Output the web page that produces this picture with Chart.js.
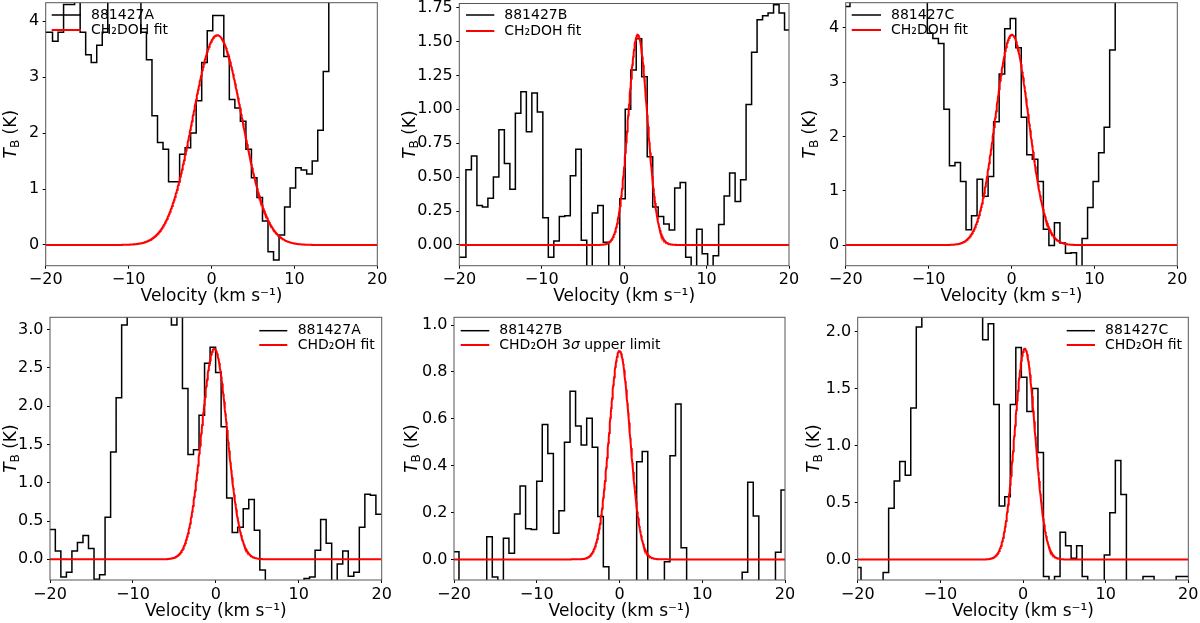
<!DOCTYPE html>
<html>
<head>
<meta charset="utf-8">
<title>CH2DOH / CHD2OH spectra</title>
<script src="https://cdn.jsdelivr.net/npm/chart.js@4.4.1/dist/chart.umd.min.js"></script>
<style>
  html, body { margin: 0; padding: 0; background: #fff; }
  .panel { position: absolute; }
</style>
</head>
<body>
<div class="panel" style="left:0px;top:0px;width:400px;height:312px"><canvas id="p0"></canvas></div>
<div class="panel" style="left:400px;top:0px;width:400px;height:312px"><canvas id="p1"></canvas></div>
<div class="panel" style="left:800px;top:0px;width:400px;height:312px"><canvas id="p2"></canvas></div>
<div class="panel" style="left:0px;top:312px;width:400px;height:311px"><canvas id="p3"></canvas></div>
<div class="panel" style="left:400px;top:312px;width:400px;height:311px"><canvas id="p4"></canvas></div>
<div class="panel" style="left:800px;top:312px;width:400px;height:311px"><canvas id="p5"></canvas></div>
<script>
// legend labels
const sourceNames = ['881427A', '881427B', '881427C', '881427A', '881427B', '881427C'];
const fitLabels = ['CH\u2082DOH fit', 'CH\u2082DOH fit', 'CH\u2082DOH fit',
                   'CHD\u2082OH fit', 'CHD\u2082OH 3\u03c3 upper limit', 'CHD\u2082OH fit'];

// spectral channels: left edge of first channel and channel width (km/s)
const chanStart = [-20.51, -20.53, -20.15, -20.69, -20.07, -20.27];
const chanWidth = [0.6665, 0.6665, 0.6665, 0.6665, 0.671, 0.669];

// brightness temperature per channel (K)
const tbCH2DOH_A = [3.8, 3.8, 3.64, 3.8, 4.3, 4.3, 4.6, 3.8, 3.4, 3.26, 3.57, 3.8, 4.6, 4.8, 4.9, 4.7,
  4.5, 4.4, 3.8, 3.31, 2.31, 1.83, 1.71, 1.13, 1.13, 1.62, 1.74, 2.0, 2.58, 3.26, 3.83, 4.1, 4.1,
  3.37, 2.6, 2.45, 2.21, 1.71, 1.2, 0.85, 0.43, -0.12, -0.27, 0.18, 0.68, 1.02, 1.38, 1.34, 1.27,
  1.5, 2.05, 3.1, 4.6, 5.0, 5.3, 5.5, 5.6, 5.5, 5.6, 5.4, 5.3];
const tbCH2DOH_B = [-0.09, -0.09, 0.555, 0.655, 0.29, 0.28, 0.345, 0.5, 0.85, 0.6, 0.41, 0.97, 1.13,
  0.835, 1.12, 0.98, 0.2, -0.09, 0.03, 0.21, 0.215, 0.51, 0.705, 0.035, -0.3, 0.235, 0.29, 0.02,
  -0.3, -0.3, 0.34, 1.0, 1.29, 1.52, 1.24, 0.65, 0.28, 0.21, 0.155, 0.11, 0.42, 0.46, -0.09, -0.3,
  0.115, -0.065, -0.3, -0.08, 0.15, 0.36, 0.53, 0.32, 0.48, 1.035, 1.42, 1.66, 1.69, 1.71, 1.77,
  1.71, 1.585];
const tbCH2DOH_C = [4.39, 4.6, 4.8, 5.0, 5.2, 5.3, 5.4, 5.3, 5.2, 5.0, 4.9, 4.8, 4.7, 4.6, 4.55,
  3.9, 3.8, 3.71, 2.5, 1.46, 1.52, 1.17, 0.28, 0.54, 1.21, 0.9, 1.26, 2.27, 3.15, 3.98, 4.17, 3.63,
  2.35, 1.66, 1.58, 1.17, 0.29, -0.01, 0.41, 0.04, -0.15, -0.14, -0.5, 0.12, 0.69, 1.17, 1.7, 2.17,
  3.59, 4.6, 5.0, 5.3, 5.5, 5.6, 5.7, 5.6, 5.5, 5.4, 5.3, 5.2, 5.1];
const tbCHD2OH_A = [0.87, 0.39, 0.11, -0.23, -0.17, 0.11, 0.22, 0.31, 0.14, -0.26, -0.2, 0.55, 1.4,
  2.11, 3.06, 3.4, 3.6, 3.8, 3.7, 3.6, 3.4, 3.3, 3.2, 3.06, 3.2, 2.23, 1.37, 1.43, 1.88, 2.56, 2.77,
  2.44, 1.73, 0.8, 0.35, 0.42, 0.66, 0.78, 0.38, -0.14, -0.4, -0.5, -0.45, -0.4, -0.35, -0.4, -0.35,
  -0.25, -0.23, 0.12, 0.52, 0.21, -0.35, -0.06, 0.11, -0.22, -0.17, 0.42, 0.85, 0.835, 0.59];
const tbCHD2OH_B = [0.033, -0.15, -0.15, -0.15, -0.15, -0.15, 0.097, -0.075, -0.15, 0.09, 0.026,
  0.194, 0.313, 0.131, 0.127, 0.333, 0.576, 0.452, 0.111, 0.208, 0.5, 0.717, 0.569, 0.488, 0.602,
  0.479, 0.183, -0.031, -0.15, -0.15, -0.15, -0.15, -0.15, 0.417, 0.46, -0.15, -0.15, -0.15, -0.01,
  0.442, 0.663, 0.05, -0.15, -0.15, -0.15, -0.15, -0.15, -0.15, -0.15, -0.15, -0.15, -0.15, -0.055,
  0.329, 0.185, -0.15, -0.15, -0.15, 0.03, 0.296];
const tbCHD2OH_C = [-0.07, -0.3, -0.3, -0.3, -0.3, -0.115, 0.45, 0.69, 0.86, 0.74, 1.33, 2.04, 2.3,
  2.5, 2.7, 2.9, 3.0, 3.1, 3.0, 2.8, 2.6, 2.4, 2.3, 1.93, 2.07, 1.36, 0.47, 0.55, 1.36, 1.86, 1.6,
  1.3, 1.5, 0.94, -0.15, -0.3, -0.15, 0.24, 0.12, 0.01, 0.12, -0.15, -0.3, -0.3, -0.3, 0.04, 0.41,
  0.87, 0.57, -0.3, -0.3, -0.3, -0.15, -0.15, -0.3, -0.3, -0.3, -0.3, -0.15, -0.15, -0.15];
const spectra = [tbCH2DOH_A, tbCH2DOH_B, tbCH2DOH_C, tbCHD2OH_A, tbCHD2OH_B, tbCHD2OH_C];

// Gaussian fit parameters: peak (K), centre (km/s), sigma (km/s)
const fitAmp = [3.75, 1.55, 3.87, 2.75, 0.89, 1.85];
const fitCenter = [0.7, 1.65, 0.05, -0.18, 0.0, 0.22];
const fitSigma = [2.97, 1.17, 2.0, 1.55, 1.25, 1.23];

// axis limits and ticks
const xTicks = [-20, -10, 0, 10, 20];
const yMin = [-0.37, -0.153, -0.38, -0.27, -0.088, -0.18];
const yMax = [4.33, 1.78, 4.46, 3.16, 1.033, 2.126];
const yTicks = [
  [0, 1, 2, 3, 4],
  [0, 0.25, 0.5, 0.75, 1.0, 1.25, 1.5, 1.75],
  [0, 1, 2, 3, 4],
  [0, 0.5, 1.0, 1.5, 2.0, 2.5, 3.0],
  [0, 0.2, 0.4, 0.6, 0.8, 1.0],
  [0, 0.5, 1.0, 1.5, 2.0]
];
const yDecimals = [0, 2, 0, 1, 1, 1];

// placement of each plot inside its canvas (px)
const boxes = [
  { padTop: 2.7, yW: 45.7, padRight: 22.7, xH: 46.3, titlePad: 4.8, yTitleX: 12, leg: [51.7, 81, 91, 15, 30] },
  { padTop: 3.5, yW: 59.3, padRight: 11, xH: 46.3, titlePad: 4.8, yTitleX: 10.5, leg: [66, 94.3, 104.3, 15, 31] },
  { padTop: 2.7, yW: 45.7, padRight: 22.7, xH: 46.3, titlePad: 4.8, yTitleX: 11, leg: [51.7, 81, 91, 15, 30] },
  { padTop: 5.3, yW: 50, padRight: 18.3, xH: 43, titlePad: 1.1, yTitleX: 11.5, leg: [259.3, 287.3, 297.7, 18.7, 33] },
  { padTop: 5.3, yW: 54, padRight: 15, xH: 43, titlePad: 1.1, yTitleX: 13, leg: [60.7, 89.3, 99.3, 18.7, 33] },
  { padTop: 5.3, yW: 57.7, padRight: 11.7, xH: 43, titlePad: 1.1, yTitleX: 15, leg: [266.7, 295, 305, 18.7, 33] }
];

Chart.defaults.font.family = 'DejaVu Sans';
Chart.defaults.font.size = 16;
Chart.defaults.color = '#000';

function stepPoints(i) {
  const vals = spectra[i];
  const pts = vals.map((v, k) => ({ x: chanStart[i] + k * chanWidth[i], y: v }));
  pts.push({ x: chanStart[i] + vals.length * chanWidth[i], y: vals[vals.length - 1] });
  return pts;
}

function fitPoints(i) {
  const pts = [];
  for (let k = 0; k <= 800; k++) {
    const v = -20 + k * 0.05;
    const d = (v - fitCenter[i]) / fitSigma[i];
    pts.push({ x: v, y: fitAmp[i] * Math.exp(-0.5 * d * d) });
  }
  return pts;
}

function drawParts(ctx, parts, x, y) {
  parts.forEach(p => {
    ctx.font = p.font;
    ctx.fillText(p.t, x, y + (p.dy || 0));
    x += ctx.measureText(p.t).width;
  });
}

const decorations = {
  id: 'decorations',
  afterDraw(chart, args, o) {
    const ctx = chart.ctx, a = chart.chartArea;
    ctx.save();
    // frame
    ctx.strokeStyle = '#555';
    ctx.lineWidth = 1;
    ctx.strokeRect(a.left, a.top, a.right - a.left, a.bottom - a.top);

    // y axis title T_B (K)
    ctx.fillStyle = '#000';
    ctx.textBaseline = 'middle';
    ctx.textAlign = 'left';
    const parts = [
      { t: 'T', font: 'italic 17px DejaVu Sans' },
      { t: 'B', font: '12px DejaVu Sans', dy: 4 },
      { t: ' (K)', font: '17px DejaVu Sans' }
    ];
    let w = 0;
    parts.forEach(p => { ctx.font = p.font; w += ctx.measureText(p.t).width; });
    ctx.translate(o.yTitleX, (a.top + a.bottom) / 2);
    ctx.rotate(-Math.PI / 2);
    drawParts(ctx, parts, -w / 2, 0);
    ctx.restore();

    // legend (no frame)
    ctx.save();
    const [l0, l1, tx, r1, r2] = o.leg;
    ctx.lineWidth = 1.5;
    ctx.strokeStyle = '#000';
    ctx.beginPath(); ctx.moveTo(l0, r1); ctx.lineTo(l1, r1); ctx.stroke();
    ctx.lineWidth = 2;
    ctx.strokeStyle = '#ff0000';
    ctx.beginPath(); ctx.moveTo(l0, r2); ctx.lineTo(l1, r2); ctx.stroke();
    ctx.fillStyle = '#000';
    ctx.textBaseline = 'middle';
    drawParts(ctx, [{ t: o.name, font: '14px DejaVu Sans' }], tx, r1);
    const segs = o.fit.split('\u03c3');
    const fp = [];
    segs.forEach((s, k) => {
      if (k > 0) fp.push({ t: '\u03c3', font: 'italic 14px DejaVu Sans' });
      fp.push({ t: s, font: '14px DejaVu Sans' });
    });
    drawParts(ctx, fp, tx, r2);
    ctx.restore();
  }
};

function makePanel(i) {
  const b = boxes[i];
  new Chart(document.getElementById('p' + i), {
    type: 'line',
    data: {
      datasets: [
        {
          label: fitLabels[i],
          data: fitPoints(i),
          borderColor: '#ff0000',
          borderWidth: 2,
          pointRadius: 0,
          tension: 0,
          clip: 0,
          order: 0
        },
        {
          label: sourceNames[i],
          data: stepPoints(i),
          borderColor: '#000',
          borderWidth: 1.5,
          pointRadius: 0,
          stepped: true,
          clip: 0,
          order: 1
        }
      ]
    },
    options: {
      responsive: true,
      maintainAspectRatio: false,
      animation: false,
      events: [],
      layout: { padding: { left: 0, right: b.padRight, top: b.padTop, bottom: 0 } },
      scales: {
        x: {
          type: 'linear',
          min: -20,
          max: 20,
          border: { display: false },
          grid: { drawOnChartArea: false, drawTicks: true, tickLength: 3, color: '#000' },
          ticks: {
            padding: 2,
            maxRotation: 0,
            callback: v => (v < 0 ? '\u2212' + Math.abs(v) : String(v))
          },
          title: {
            display: true,
            text: 'Velocity (km s\u207b\u00b9)',
            font: { size: 17 },
            padding: { top: 0, bottom: b.titlePad }
          },
          afterBuildTicks: s => { s.ticks = xTicks.map(v => ({ value: v })); },
          afterFit: s => { s.height = b.xH; s.paddingLeft = 0; s.paddingRight = 0; }
        },
        y: {
          type: 'linear',
          min: yMin[i],
          max: yMax[i],
          border: { display: false },
          grid: { drawOnChartArea: false, drawTicks: true, tickLength: 3, color: '#000' },
          ticks: {
            padding: 3.5,
            callback: v => v.toFixed(yDecimals[i])
          },
          afterBuildTicks: s => { s.ticks = yTicks[i].map(v => ({ value: v })); },
          afterFit: s => { s.width = b.yW; s.paddingTop = 0; s.paddingBottom = 0; }
        }
      },
      plugins: {
        legend: { display: false },
        tooltip: { enabled: false },
        decorations: { yTitleX: b.yTitleX, leg: b.leg, name: sourceNames[i], fit: fitLabels[i] }
      }
    },
    plugins: [decorations]
  });
}

window.onload = function () {
  for (let i = 0; i < 6; i++) makePanel(i);
};
</script>
</body>
</html>
